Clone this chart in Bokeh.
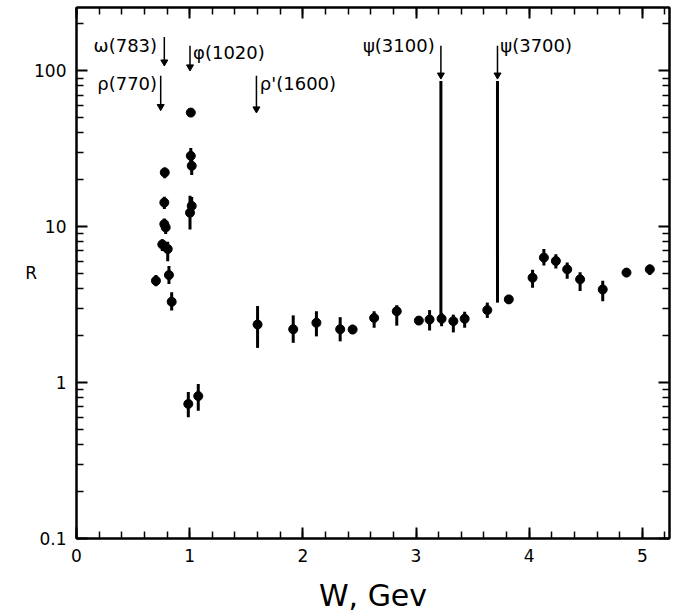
from bokeh.plotting import figure
from bokeh.models import (Range1d, FixedTicker, LinearAxis, LogAxis, ColumnDataSource,
                          CustomLabelingPolicy)
from bokeh.core.properties import value
from bokeh.embed import file_html
from bokeh.resources import INLINE

# ---- data: R = sigma(e+e- -> hadrons)/sigma(mu mu) vs W (GeV) ----
W = [0.702, 0.758, 0.776, 0.788, 0.776, 0.780, 0.806, 0.817, 0.841,
     0.988, 1.076, 1.003, 1.018, 1.010, 1.018, 1.010,
     1.600, 1.915, 2.120, 2.330, 2.440, 2.630, 2.830, 3.025, 3.120,
     3.226, 3.330, 3.430, 3.630, 3.820, 4.030, 4.130, 4.236, 4.336,
     4.450, 4.650, 4.860, 5.066]
R = [4.5, 7.7, 10.4, 9.9, 14.3, 22.3, 7.2, 4.9, 3.3,
     0.73, 0.82, 12.3, 13.6, 28.5, 24.6, 54.0,
     2.36, 2.20, 2.42, 2.20, 2.19, 2.60, 2.87, 2.50, 2.54,
     2.57, 2.48, 2.57, 2.92, 3.42, 4.71, 6.34, 6.03, 5.33,
     4.60, 3.96, 5.08, 5.33]
R_lo = [4.15, 7.0, 9.6, 9.0, 13.0, 20.5, 6.0, 4.3, 2.9,
        0.60, 0.66, 9.6, 12.0, 26.0, 21.5, 51.0,
        1.67, 1.80, 1.98, 1.84, 2.05, 2.25, 2.32, 2.40, 2.16,
        2.30, 2.10, 2.25, 2.60, 3.20, 4.06, 5.65, 5.39, 4.64,
        3.87, 3.33, 4.80, 4.90]
R_hi = [4.9, 8.3, 11.3, 10.6, 15.6, 24.0, 8.0, 5.6, 3.8,
        0.87, 0.98, 15.8, 15.5, 32.0, 27.5, 57.0,
        3.10, 2.70, 2.87, 2.63, 2.35, 2.87, 3.14, 2.60, 2.92,
        2.80, 2.73, 2.85, 3.26, 3.65, 5.30, 7.20, 6.65, 5.90,
        5.10, 4.50, 5.35, 5.70]

# resonance markers
res_names = ["\u03c1(770)", "\u03c9(783)", "\u03c6(1020)", "\u03c1'(1600)", "\u03c8(3100)", "\u03c8(3700)"]
res_x = [0.744, 0.776, 1.003, 1.59, 3.22, 3.72]
arrow_top = [93, 165, 145, 93, 145, 145]
arrow_tip = [59, 114, 106, 57, 94, 94]
label_x = [0.712, 0.712, 1.030, 1.620, 3.165, 3.745]
label_y = [82.5, 145, 132, 82.5, 145, 145]
label_align = ["right", "right", "left", "left", "right", "left"]

psi_x = [3.22, 3.72]
psi_top = [86, 86]
psi_bottom = [2.62, 3.26]

x_major = [0, 1, 2, 3, 4, 5]
y_major = [0.1, 1, 10, 100]
y_labels = ["0.1", "1", "10", "100"]

FONT = "DejaVu Sans"

p = figure(width=674, height=616,
           x_range=Range1d(0, 5.24), y_range=Range1d(0.1, 255),
           y_axis_type="log", output_backend="svg", toolbar_location=None,
           min_border_left=76, min_border_right=3, min_border_top=7, min_border_bottom=78)
p.grid.visible = False
p.background_fill_color = "white"
p.border_fill_color = "white"
p.outline_line_color = "black"
p.outline_line_width = 2

x_minor = [round(0.2 * i, 1) for i in range(27)]
y_minor = [m * 10.0 ** e for e in (-1, 0, 1, 2) for m in range(2, 10)]
x_ticker = FixedTicker(ticks=x_major, minor_ticks=x_minor)
y_ticker = FixedTicker(ticks=y_major, minor_ticks=y_minor)


def style(ax):
    ax.major_tick_in = 11
    ax.major_tick_out = 0
    ax.minor_tick_in = 7
    ax.minor_tick_out = 0
    ax.axis_line_width = 2
    ax.axis_line_color = "black"
    ax.major_tick_line_width = 2
    ax.minor_tick_line_width = 1.5
    ax.major_tick_line_color = "black"
    ax.minor_tick_line_color = "black"
    ax.major_label_text_font = FONT
    ax.major_label_text_font_size = "17px"
    ax.major_label_text_color = "black"


xa = p.xaxis[0]
style(xa)
xa.ticker = x_ticker
xa.major_label_standoff = 10
xa.axis_label = "W, Gev"
xa.axis_label_text_font = FONT
xa.axis_label_text_font_size = "30px"
xa.axis_label_text_font_style = "normal"
xa.axis_label_text_color = "black"
xa.axis_label_standoff = 13

ya = p.yaxis[0]
style(ya)
ya.ticker = y_ticker
ya.major_label_standoff = 10
ya.major_label_overrides = {v: s for v, s in zip(y_major, y_labels)}
ya.axis_label = "R"
ya.axis_label_text_font = FONT
ya.axis_label_text_font_size = "17px"
ya.axis_label_text_font_style = "normal"
ya.axis_label_text_color = "black"
ya.axis_label_standoff = -6
if "axis_label_orientation" in ya.properties():
    ya.axis_label_orientation = "horizontal"

no_labels = "const all = Array.from(indices); for (const i of all) indices.unset(i); return indices"

top = LinearAxis(ticker=x_ticker)
style(top)
top.major_label_policy = CustomLabelingPolicy(code=no_labels)
top.major_label_text_font_size = "1px"
top.major_label_standoff = 0
p.add_layout(top, "above")

right = LogAxis(ticker=y_ticker)
style(right)
right.major_label_policy = CustomLabelingPolicy(code=no_labels)
right.major_label_text_font_size = "1px"
right.major_label_standoff = 0
p.add_layout(right, "right")

# data points with error bars
p.segment(x0=W, y0=R_lo, x1=W, y1=R_hi, line_width=3, line_color="black")
p.scatter(W, R, size=9, color="black")

# resonance arrows
p.segment(x0=res_x, y0=arrow_top, x1=res_x, y1=arrow_tip, line_width=1.5, line_color="black")
p.scatter(res_x, arrow_tip, marker="inverted_triangle", size=7, color="black")
p.segment(x0=psi_x, y0=psi_top, x1=psi_x, y1=psi_bottom, line_width=3, line_color="black")

src = ColumnDataSource(dict(x=label_x, y=label_y, t=res_names, al=label_align))
p.text(x="x", y="y", text="t", text_align="al", text_baseline="middle", source=src,
       text_font=value(FONT), text_font_size="18px", text_color="black")

open("out.html", "w").write(file_html(p, INLINE))
